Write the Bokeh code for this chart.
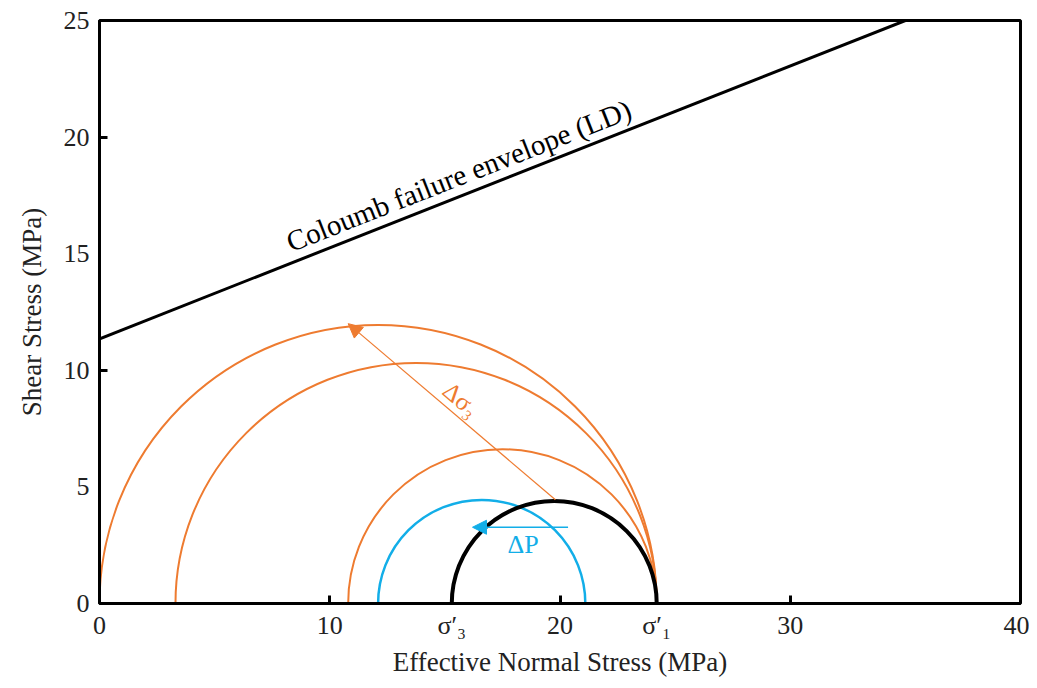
import numpy as np
from bokeh.plotting import figure
from bokeh.models import FixedTicker, Arrow, NormalHead, Slope, Range1d
from bokeh.core.properties import value
from bokeh.embed import file_html
from bokeh.resources import INLINE

# Data (MPa)
sig3_eff = 15.3
sig1_eff = 24.2
black_left, black_right = 15.3, 24.2          # initial Mohr circle
blue_left, blue_right = 12.1, 21.1            # after pore-pressure change
orange_lefts = [0.0, 3.3, 10.8]               # after sigma3 decrease
orange_right = 24.2
env_intercept = 11.35
env_gradient = 0.39

x_ticks = [0, 10, sig3_eff, 20, sig1_eff, 30, 40]
x_labels = {0: "0", 10: "10", sig3_eff: "σ′₃", 20: "20", sig1_eff: "σ′₁", 30: "30", 40: "40"}
y_ticks = [0, 5, 10, 15, 20, 25]

SERIF = "Liberation Serif"
ORANGE = "#ee7b30"
BLUE = "#12aee8"

p = figure(width=1029, height=680, output_backend="svg", toolbar_location=None,
           x_range=Range1d(0, 40), y_range=Range1d(0, 25),
           min_border_left=99, min_border_right=9, min_border_top=20, min_border_bottom=77)
p.grid.visible = False
p.outline_line_color = "black"
p.outline_line_width = 3
p.background_fill_color = "white"

xa = p.xaxis[0]
xa.ticker = FixedTicker(ticks=x_ticks, minor_ticks=[10, 20, 30])
xa.major_label_overrides = {k: v for k, v in x_labels.items()}
ya = p.yaxis[0]
ya.ticker = FixedTicker(ticks=y_ticks, minor_ticks=[10, 20])
for ax in (xa, ya):
    ax.axis_line_color = "black"
    ax.axis_line_width = 3
    ax.major_tick_in = 0
    ax.major_tick_out = 0
    ax.minor_tick_in = 8
    ax.minor_tick_out = 0
    ax.minor_tick_line_width = 3
    ax.minor_tick_line_color = "black"
    ax.major_label_text_font = SERIF
    ax.major_label_text_font_size = "26px"
    ax.major_label_text_color = "#222222"
    ax.axis_label_text_font = SERIF
    ax.axis_label_text_font_size = "27px"
    ax.axis_label_text_font_style = "normal"
    ax.axis_label_text_color = "#222222"
xa.axis_label = "Effective Normal Stress (MPa)"
ya.axis_label = "Shear Stress (MPa)"
xa.major_label_standoff = 7
ya.major_label_standoff = 10
xa.axis_label_standoff = 4
ya.axis_label_standoff = 14

# Coulomb failure envelope
p.add_layout(Slope(gradient=env_gradient, y_intercept=env_intercept,
                   line_color="black", line_width=3))
p.text(x=[15.6], y=[18.35], text=["Coloumb failure envelope (LD)"], angle=0.375,
       text_font=value(SERIF), text_font_size="29px", text_color="black",
       text_align="center", text_baseline="middle")

# Orange circles
oc = [(l + orange_right) / 2 for l in orange_lefts]
orad = [(orange_right - l) / 2 for l in orange_lefts]
p.arc(x=oc, y=[0] * len(oc), radius=orad, start_angle=0, end_angle=np.pi,
      line_color=ORANGE, line_width=2)

# Blue circle
p.arc(x=[(blue_left + blue_right) / 2], y=[0], radius=[(blue_right - blue_left) / 2],
      start_angle=0, end_angle=np.pi, line_color=BLUE, line_width=2.5)

# Black circle
bc = (black_left + black_right) / 2
br = (black_right - black_left) / 2
p.arc(x=[bc], y=[0], radius=[br], start_angle=0, end_angle=np.pi,
      line_color="black", line_width=4)

# Delta sigma3 arrow
p.add_layout(Arrow(x_start=19.8, y_start=4.45, x_end=10.8, y_end=12.0,
                   line_color=ORANGE, line_width=1.2,
                   end=NormalHead(size=14, fill_color=ORANGE, line_color=ORANGE)))
p.text(x=[15.7], y=[8.75], text=["Δσ₃"], angle=-0.70,
       text_font=value(SERIF), text_font_size="25px", text_color=ORANGE,
       text_align="center", text_baseline="middle")

# Delta P arrow
p.add_layout(Arrow(x_start=20.35, y_start=3.27, x_end=16.2, y_end=3.27,
                   line_color=BLUE, line_width=1.5,
                   end=NormalHead(size=14, fill_color=BLUE, line_color=BLUE)))
p.text(x=[18.4], y=[2.55], text=["ΔP"],
       text_font=value(SERIF), text_font_size="26px", text_color=BLUE,
       text_align="center", text_baseline="middle")

open("out.html", "w").write(file_html(p, INLINE))
